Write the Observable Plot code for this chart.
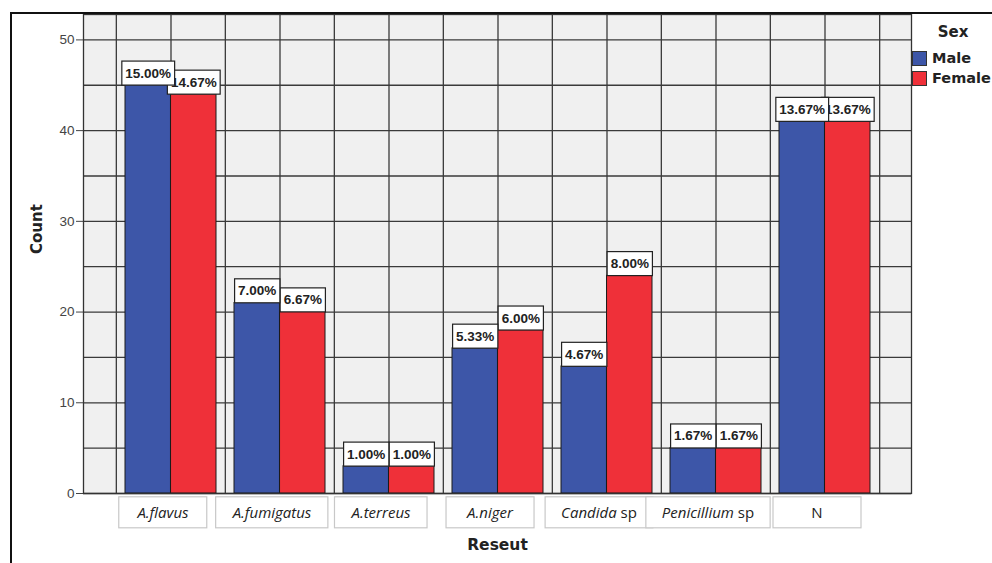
<!DOCTYPE html>
<html>
<head>
<meta charset="utf-8">
<script src="https://cdn.jsdelivr.net/npm/d3@7"></script>
<script src="https://cdn.jsdelivr.net/npm/@observablehq/plot@0.6"></script>
<style>
  html, body { margin: 0; padding: 0; background: #fff; }
  #wrap { position: relative; width: 992px; height: 563px; overflow: hidden; }
  #chart svg { display: block; }
  #frame { position: absolute; left: 10px; top: 12px; width: 1200px; height: 800px;
           border-left: 2px solid #111; border-top: 2px solid #111; pointer-events: none; }
  #legend { position: absolute; left: 912px; top: 22px; width: 82px;
            font-family: "DejaVu Sans", Verdana, sans-serif; font-weight: bold; color: #222; }
  #legend .title { text-align: center; font-size: 15px; line-height: 20px; margin-bottom: 6px; }
  #legend .item { display: flex; align-items: center; height: 20px; font-size: 14.5px; }
  #legend .sw { width: 15px; height: 15px; border: 1px solid #333; box-sizing: border-box; margin-right: 5px; flex: none; }
</style>
</head>
<body>
<div id="wrap">
  <div id="chart"></div>
  <div id="legend"></div>
  <div id="frame"></div>
</div>
<script>
// ---- data ----
const categories = ["A.flavus", "A.fumigatus", "A.terreus", "A.niger", "Candida sp", "Penicillium sp", "N"];
const sexes = ["Male", "Female"];
const maleCounts = [45, 21, 3, 16, 14, 5, 41];
const femaleCounts = [44, 20, 3, 18, 24, 5, 41];
const malePct = ["15.00%", "7.00%", "1.00%", "5.33%", "4.67%", "1.67%", "13.67%"];
const femalePct = ["14.67%", "6.67%", "1.00%", "6.00%", "8.00%", "1.67%", "13.67%"];
const yTicks = [0, 10, 20, 30, 40, 50];
const yGrid = [0, 5, 10, 15, 20, 25, 30, 35, 40, 45, 50];
const colors = ["#3d56a8", "#ef3039"];
const xTitle = "Reseut";
const yTitle = "Count";
const legendTitle = "Sex";

// ---- table ----
const maleRows = categories.map((c, i) => ({cat: c, sex: sexes[0], count: maleCounts[i], pct: malePct[i]}));
const femaleRows = categories.map((c, i) => ({cat: c, sex: sexes[1], count: femaleCounts[i], pct: femalePct[i]}));

// ---- layout ----
const W = 992, H = 563, mL = 83, mR = 81, mT = 14, mB = 70;
const pInner = 0.167, pOuter = 0.37;
const step = (W - mL - mR) / (categories.length - pInner + 2 * pOuter);
const bw = step * (1 - pInner);
const gridColor = "#3a3a3a";

const labelFont = "Liberation Sans, Arial, sans-serif";

const chart = Plot.plot({
  width: W, height: H,
  marginLeft: mL, marginRight: mR, marginTop: mT, marginBottom: mB,
  style: {background: "transparent", fontFamily: labelFont, fontSize: "13.5px", color: "#444", overflow: "visible"},
  x: {domain: categories, paddingInner: pInner, paddingOuter: pOuter, axis: null},
  y: {domain: [0, 52.8], ticks: yTicks, tickSize: 7, tickPadding: 2, label: null},
  marks: [
    Plot.frame({fill: "#f0f0f0", stroke: null}),
    Plot.ruleY(yGrid, {stroke: gridColor, strokeWidth: 1.3}),
    Plot.ruleX(categories, {stroke: gridColor, strokeWidth: 1.3}),
    Plot.ruleX(categories, {stroke: gridColor, strokeWidth: 1.3, dx: -step / 2}),
    Plot.ruleX(categories.slice(-1), {stroke: gridColor, strokeWidth: 1.3, dx: step / 2}),
    Plot.barY(maleRows, {x: "cat", y: "count", fill: colors[0], stroke: "#1a1a1a", strokeWidth: 1, insetRight: bw / 2}),
    Plot.barY(femaleRows, {x: "cat", y: "count", fill: colors[1], stroke: "#1a1a1a", strokeWidth: 1, insetLeft: bw / 2}),
    Plot.frame({stroke: "#333", strokeWidth: 1.3}),
    Plot.text(femaleRows, {x: "cat", y: "count", text: "pct", dx: bw / 4, dy: -12, lineAnchor: "middle",
      fontWeight: "bold", fontSize: 13.5, fill: "#222", fontFamily: labelFont}),
    Plot.text(maleRows, {x: "cat", y: "count", text: "pct", dx: -bw / 4, dy: -12, lineAnchor: "middle",
      fontWeight: "bold", fontSize: 13.5, fill: "#222", fontFamily: labelFont}),
    Plot.text(categories, {x: d => d, text: d => d, frameAnchor: "bottom", dy: 20, dx: -8, lineAnchor: "middle",
      fontStyle: "italic", fontSize: 15, fill: "#222", fontFamily: "Open Sans, sans-serif"}),
    Plot.text([xTitle], {text: d => d, frameAnchor: "bottom", dy: 52, lineAnchor: "middle",
      fontWeight: "bold", fontSize: 15.5, fill: "#222", fontFamily: "DejaVu Sans, Verdana, sans-serif"}),
    Plot.text([yTitle], {text: d => d, frameAnchor: "left", dx: -46, rotate: -90, lineAnchor: "middle",
      fontWeight: "bold", fontSize: 15, fill: "#222", fontFamily: "DejaVu Sans, Verdana, sans-serif"})
  ]
});
document.getElementById("chart").appendChild(chart);

// ---- boxes behind labels ----
const ns = "http://www.w3.org/2000/svg";
function boxText(t, padX, h, minW, stroke) {
  const b = t.getBBox();
  const w = Math.max(b.width + 2 * padX, minW);
  const cx = b.x + b.width / 2, cy = b.y + b.height / 2;
  const r = document.createElementNS(ns, "rect");
  r.setAttribute("x", cx - w / 2);
  r.setAttribute("y", cy - h / 2);
  r.setAttribute("width", w);
  r.setAttribute("height", h);
  r.setAttribute("fill", "#ffffff");
  r.setAttribute("stroke", stroke);
  r.setAttribute("stroke-width", 1.2);
  r.setAttribute("font-style", "normal");
  const tr = t.getAttribute("transform");
  if (tr) r.setAttribute("transform", tr);
  t.parentNode.insertBefore(r, t);
}
const texts = Array.from(chart.querySelectorAll("text"));
for (const t of texts) {
  const s = t.textContent;
  if (categories.includes(s)) {
    t.textContent = "";
    const m = s.match(/^(.*?)( sp)$/);
    const parts = s === "N" ? [[s, "normal"]] : m ? [[m[1], "italic"], [m[2], "normal"]] : [[s, "italic"]];
    for (const [txt, st] of parts) {
      const sp = document.createElementNS(ns, "tspan");
      sp.setAttribute("font-style", st);
      sp.textContent = txt;
      t.appendChild(sp);
    }
    boxText(t, 16, 31, 88, "#c8c8c8");
  } else if (/%$/.test(s)) {
    boxText(t, 3.5, 24, 0, "#222");
  }
}

// ---- legend ----
const legend = d3.select("#legend");
legend.append("div").attr("class", "title").text(legendTitle);
sexes.forEach((s, i) => {
  const it = legend.append("div").attr("class", "item");
  it.append("span").attr("class", "sw").style("background", colors[i]);
  it.append("span").text(s);
});
</script>
</body>
</html>
